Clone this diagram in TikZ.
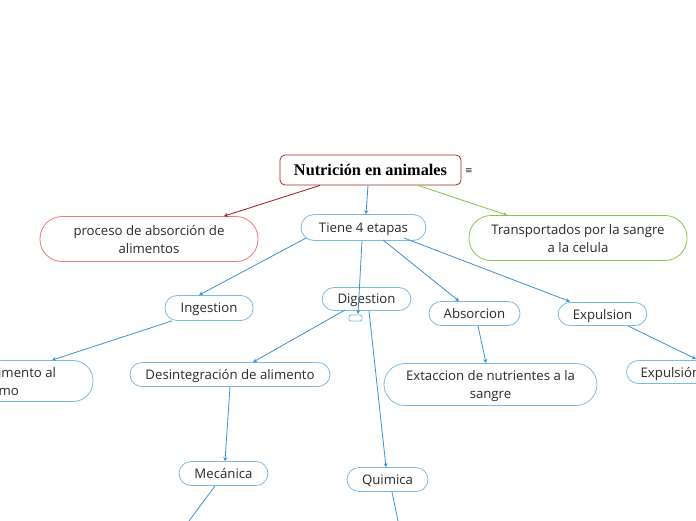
\documentclass[tikz,border=0pt]{standalone}
\usepackage{fontspec}
\setmainfont{Open Sans}
\newfontfamily\titlefont{Liberation Serif}
\newfontfamily\symfont{DejaVu Sans}
\usetikzlibrary{arrows.meta}
\definecolor{lineblue}{HTML}{3A93D3}
\definecolor{nodeblue}{HTML}{7DB9E6}
\definecolor{titlered}{HTML}{A52A2A}
\definecolor{darkred}{HTML}{A01818}
\definecolor{lightred}{HTML}{F07878}
\definecolor{leafgreen}{HTML}{8BC34A}
\definecolor{txt}{HTML}{2A2A2A}
\tikzset{
  pill/.style={draw=nodeblue, line width=0.8pt, rounded corners=#1, text=txt, align=center,
    font=\fontsize{13.2}{18}\selectfont, inner sep=0pt, text depth=0pt},
  pill/.default=12pt,
  conn/.style={draw=lineblue, line width=0.8pt, -{Stealth[length=4pt,width=4pt]}},
  plainconn/.style={draw=lineblue, line width=0.8pt},
}
\begin{document}
\begin{tikzpicture}[x=1pt,y=-1pt]
\fill[white] (0,0) rectangle (696,520);
\useasboundingbox (0,0) rectangle (696,520);
\begin{scope}
\clip (0,0) rectangle (696,520);
% nodes
\node[draw=titlered, line width=0.8pt, rounded corners=5pt, minimum width=181pt, minimum height=30pt, inner sep=0pt,
  font=\titlefont\bfseries\fontsize{16.3}{18}\selectfont, text=black, text depth=0pt] (title) at (370.5,170) {Nutrición en animales};
\node[font=\symfont\fontsize{9}{11}\selectfont, text=txt] (menu) at (469,171) {≡};
\node[pill=13pt, minimum width=125pt, minimum height=26pt] (tiene) at (363.5,227.5) {Tiene 4 etapas};
\node[pill=22pt, draw=lightred, minimum width=218pt, minimum height=45pt] (proceso) at (149,239) {proceso de absorción de\\alimentos};
\node[pill=22pt, draw=leafgreen, minimum width=218pt, minimum height=45pt] (transp) at (578,238) {Transportados por la sangre\\a la celula};
\node[pill, minimum width=88pt, minimum height=25pt] (ing) at (209,308) {Ingestion};
\node[pill, minimum width=89pt, minimum height=23pt] (dig) at (366.5,299) {Digestion};
\draw[nodeblue, line width=0.8pt, rounded corners=2pt] (349,315) rectangle (362,321);
\coordinate (digmark) at (358,314);
\node[pill, minimum width=91pt, minimum height=24pt] (abs) at (474.5,313.5) {Absorcion};
\node[pill, minimum width=89pt, minimum height=23pt] (exp) at (602.5,314) {Expulsion};
\node[pill=20pt, minimum width=214pt, minimum height=41pt] (ingreso) at (-14,381) {Ingreso del alimento al\\organismo};
\node[pill, minimum width=200pt, minimum height=24pt] (des) at (230,374.5) {Desintegración de alimento};
\node[pill=21pt, minimum width=213pt, minimum height=42pt] (ext) at (490.5,384.5) {Extaccion de nutrientes a la\\sangre};
\node[pill, minimum width=90pt, minimum height=23pt, anchor=west] (expu) at (626,372) {\hspace{14pt}Expulsión\hspace{16pt}};
\node[pill, minimum width=89pt, minimum height=24pt] (mec) at (223.5,473.5) {Mecánica};
\node[pill, minimum width=81pt, minimum height=24pt] (qui) at (387.5,479.5) {Quimica};
\coordinate (mecout) at (189,521);
\coordinate (quiout) at (398,521);
% connectors
\draw[conn] (title.south -| 368,0) -- (tiene.north -| 366,0);
\draw[draw=darkred, line width=0.8pt, -{Stealth[length=4pt,width=4pt]}] (title.south -| 320,0) -- (proceso.north -| 224,0);
\draw[draw=leafgreen, line width=0.8pt, -{Stealth[length=4pt,width=4pt]}] (title.south -| 418,0) -- (transp.north -| 507,0);
\draw[conn] (306,238) -- (ing.north -| 199,0);
\draw[conn] (tiene.south -| 362,0) -- (digmark);
\draw[conn] (383,240) -- (abs.north -| 459,0);
\draw[conn] (404,238) -- (570,301.5);
\draw[conn] (ing.south -| 172,0) -- (ingreso.north -| 52,0);
\draw[conn] (345,310) -- (des.north -| 253,0);
\draw[conn] (dig.south -| 369,0) -- (qui.north -| 386,0);
\draw[conn] (abs.south -| 478,0) -- (ext.north -| 486,0);
\draw[conn] (exp.south -| 628,0) -- (696,359);
\draw[conn] (des.south -| 230,0) -- (mec.north -| 225,0);
\draw[plainconn] (mec.south -| 215,0) -- (mecout);
\draw[plainconn] (qui.south -| 392,0) -- (quiout);
\end{scope}
\end{tikzpicture}
\end{document}
